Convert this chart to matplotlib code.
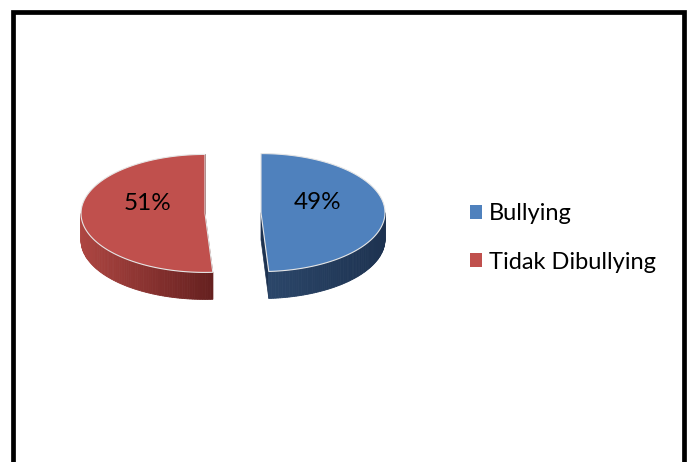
import matplotlib
matplotlib.use("Agg")
import matplotlib.pyplot as plt
import numpy as np
from matplotlib.patches import Polygon, Patch
from matplotlib.colors import to_rgb

# data
categories = ["Bullying", "Tidak Dibullying"]
values = [49, 51]
top_colors = ["#4F81BD", "#C0504D"]
# side wall shading: (lighter end, darker end)
side_colors = [("#2B4669", "#1D3250"), ("#AD4541", "#65201F")]

plt.rcParams['font.family'] = ['Lato', 'DejaVu Sans']

fig = plt.figure(figsize=(6.89, 4.62), dpi=100)
ax = fig.add_axes([0, 0, 1, 1])
ax.set_xlim(0, 689)
ax.set_ylim(462, 0)
ax.axis("off")

# pie geometry in pixel units
cx, cy = 233.0, 213.0
a, b = 124.0, 59.0      # ellipse semi axes of the top face
depth = 27.0            # thickness of the disc
explode = 28.0


def pt(theta, ex, ey, dz=0.0):
    # theta in degrees, clockwise from 12 o'clock
    t = np.radians(theta)
    return cx + ex + a * np.sin(t), cy + ey - b * np.cos(t) + dz


def blend(c1, c2, f):
    c1, c2 = np.array(to_rgb(c1)), np.array(to_rgb(c2))
    return tuple(c1 + (c2 - c1) * f)


total = float(sum(values))
start = 0.0
label_pos = []
for val, top_c, (side_l, side_d) in zip(values, top_colors, side_colors):
    sweep = 360.0 * val / total
    end = start + sweep
    mid = np.radians((start + end) / 2)
    ex = explode * np.sin(mid)
    ey = -explode * b / a * np.cos(mid)

    # radial walls (hidden parts get covered by the top face)
    c0 = (cx + ex, cy + ey)
    for th in (start, end):
        p = pt(th, ex, ey)
        wall = [c0, p, (p[0], p[1] + depth), (c0[0], c0[1] + depth)]
        ax.add_patch(Polygon(wall, closed=True, facecolor=side_d,
                             edgecolor=side_d, lw=0.5, zorder=2))

    # front outer wall, drawn as thin strips for a gradient
    lo, hi = max(start, 90.0), min(end, 270.0)
    if hi > lo:
        ths = np.linspace(lo, hi, 80)
        xs = [pt(t, ex, ey)[0] for t in ths]
        xmin, xmax = min(xs), max(xs)
        for t1, t2 in zip(ths[:-1], ths[1:]):
            p1, p2 = pt(t1, ex, ey), pt(t2, ex, ey)
            xm = (p1[0] + p2[0]) / 2
            f = (xm - xmin) / (xmax - xmin)
            col = blend(side_l, side_d, f)
            quad = [p1, p2, (p2[0], p2[1] + depth), (p1[0], p1[1] + depth)]
            ax.add_patch(Polygon(quad, closed=True, facecolor=col,
                                 edgecolor=col, lw=0.6, zorder=3))

    # top face
    ths = np.linspace(start, end, 200)
    poly = [c0] + [pt(t, ex, ey) for t in ths]
    ax.add_patch(Polygon(poly, closed=True, facecolor=top_c,
                         edgecolor="#E6E6E6", lw=0.8, zorder=4))

    label_pos.append((cx + ex + 0.46 * a * np.sin(mid), cy + ey - 10))
    start = end

for (lx, ly), val in zip(label_pos, values):
    ax.text(lx, ly, f"{val}%", fontsize=17.5, ha="center", va="center",
            color="black", zorder=5)

# legend
handles = [Patch(facecolor=c, edgecolor="none") for c in top_colors]
ax.legend(handles, categories, loc="center left",
          bbox_to_anchor=(461 / 689, 1 - 238 / 462), frameon=False,
          fontsize=17, handlelength=0.5, handleheight=0.5,
          handletextpad=0.3, labelspacing=1.15, borderaxespad=0)

# outer frame, open at the bottom
ax.plot([12.5, 12.5, 684.0, 684.0], [470, 12, 12, 470],
        color="black", lw=3.4, solid_joinstyle="miter", zorder=6)

fig.savefig("out.png", dpi=100)
